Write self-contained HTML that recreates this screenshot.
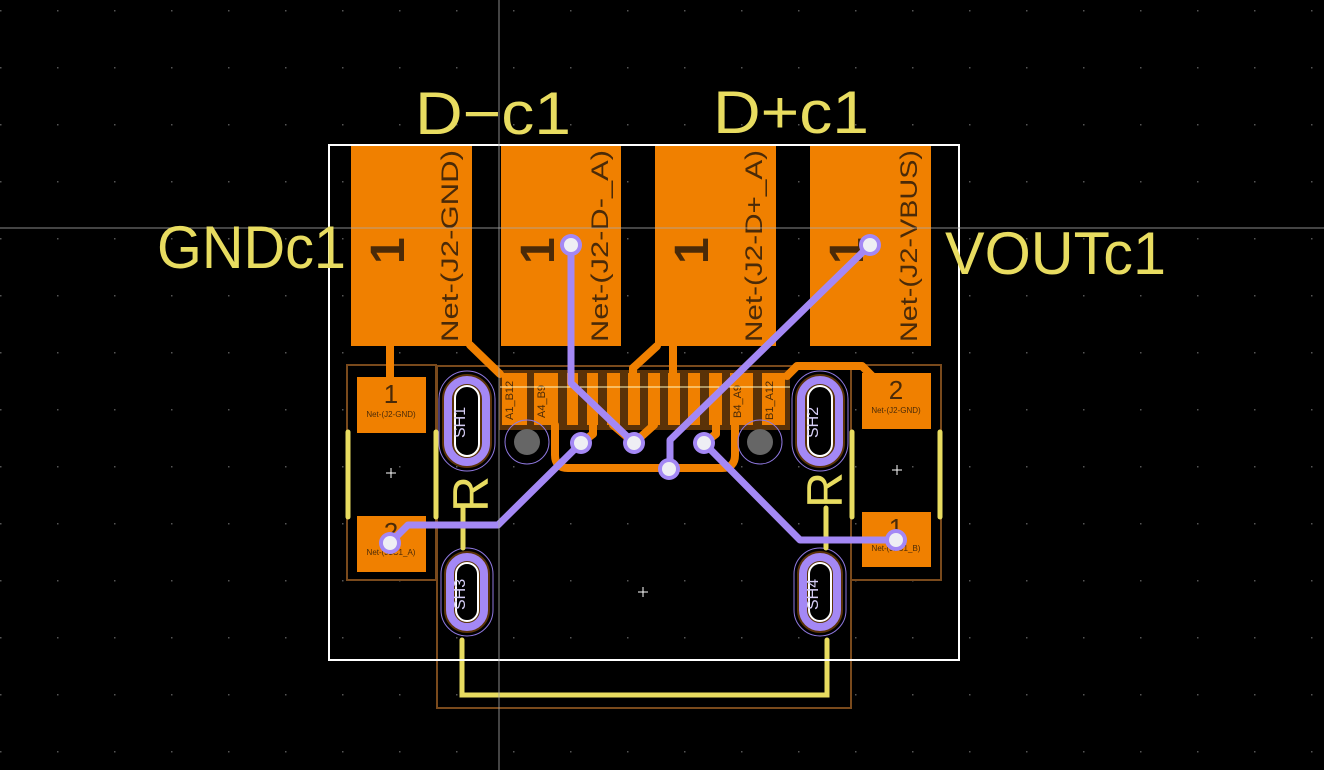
<!DOCTYPE html>
<html><head><meta charset="utf-8"><style>
html,body{margin:0;padding:0;background:#000;}
svg{display:block}
text{font-family:"Liberation Sans",sans-serif}
</style></head><body>
<svg width="1324" height="770" viewBox="0 0 1324 770" xmlns="http://www.w3.org/2000/svg">
<rect width="1324" height="770" fill="#000"/>
<defs>
<pattern id="g" width="57" height="57" patternUnits="userSpaceOnUse" x="0" y="10">
<rect x="0" y="0" width="1.5" height="1.5" fill="#555"/>
</pattern>
</defs>
<rect width="1324" height="770" fill="url(#g)"/>

<g fill="none" stroke="#7a4a1c" stroke-width="2">
<rect x="347" y="365" width="89" height="215"/>
<rect x="851" y="365" width="90" height="215"/>
<rect x="437" y="366" width="414" height="342"/>
</g>

<g fill="#f08000">
<rect x="351" y="146" width="121" height="200"/>
<rect x="501" y="146" width="120" height="200"/>
<rect x="655" y="146" width="121" height="200"/>
<rect x="810" y="146" width="121" height="200"/>
</g>
<g fill="#4a2a08" font-size="48" font-weight="bold">
<text transform="translate(404,264) rotate(-90)">1</text>
<text transform="translate(554,264) rotate(-90)">1</text>
<text transform="translate(708,264) rotate(-90)">1</text>
<text transform="translate(863,264) rotate(-90)">1</text>
</g>
<g fill="#4a2a08" font-size="24" font-family="Liberation Mono">
<text transform="translate(458,342) rotate(-90)" textLength="192" lengthAdjust="spacingAndGlyphs">Net-(J2-GND)</text>
<text transform="translate(608,342) rotate(-90)" textLength="192" lengthAdjust="spacingAndGlyphs">Net-(J2-D-_A)</text>
<text transform="translate(762,342) rotate(-90)" textLength="192" lengthAdjust="spacingAndGlyphs">Net-(J2-D+_A)</text>
<text transform="translate(917,342) rotate(-90)" textLength="192" lengthAdjust="spacingAndGlyphs">Net-(J2-VBUS)</text>
</g>

<g fill="#f08000">
<rect x="357" y="377" width="69" height="56"/>
<rect x="357" y="516" width="69" height="56"/>
<rect x="862" y="373" width="69" height="56"/>
<rect x="862" y="512" width="69" height="55"/>
</g>
<g fill="#4a2a08" font-size="26" text-anchor="middle">
<text x="391" y="403">1</text><text x="391" y="541">2</text>
<text x="896" y="399">2</text><text x="896" y="537">1</text>
</g>
<g fill="#4a2a08" font-size="8" font-family="Liberation Mono" text-anchor="middle">
<text x="391" y="417">Net-(J2-GND)</text><text x="391" y="555">Net-(J1C1_A)</text>
<text x="896" y="413">Net-(J2-GND)</text><text x="896" y="551">Net-(J1C1_B)</text>
</g>

<rect x="499" y="370" width="291" height="60" fill="#5a3208"/>
<g fill="#f08000">
<rect x="502" y="373" width="25" height="52"/>
<rect x="534" y="373" width="24" height="52"/>
<rect x="567" y="373" width="11" height="52"/>
<rect x="587" y="373" width="11" height="52"/>
<rect x="607" y="373" width="13" height="52"/>
<rect x="628" y="373" width="12" height="52"/>
<rect x="648" y="373" width="12" height="52"/>
<rect x="668" y="373" width="12" height="52"/>
<rect x="688" y="373" width="12" height="52"/>
<rect x="709" y="373" width="13" height="52"/>
<rect x="730" y="373" width="23" height="52"/>
<rect x="762" y="373" width="23" height="52"/>
</g>
<g fill="#4a2a08" font-size="11">
<text transform="translate(513,420) rotate(-90)">A1_B12</text>
<text transform="translate(545,418) rotate(-90)">A4_B9</text>
<text transform="translate(741,418) rotate(-90)">B4_A9</text>
<text transform="translate(773,420) rotate(-90)">B1_A12</text>
</g>
<line x1="500" y1="387" x2="790" y2="387" stroke="#fff8c0" stroke-width="1"/>

<g fill="none" stroke="#f08000" stroke-width="8" stroke-linejoin="round" stroke-linecap="round">
<path d="M390 346 V377"/>
<path d="M470 345 L500 374"/>
<path d="M673 346 V374"/>
<path d="M657 346 L633 368 V378"/>
<path d="M787 376 L797 366 H862 L872 376"/>
<path d="M555 425 V455 Q555 468 568 468 H722 Q735 468 735 455 V425"/>
<path d="M593 425 V434 L581 443"/>
<path d="M613 425 L634 443 L654 425"/>
<path d="M716 425 V434 L704 443"/>
</g>

<g>
<circle cx="527" cy="442" r="22" fill="none" stroke="#8f78e0" stroke-width="1"/>
<circle cx="527" cy="442" r="13" fill="#666"/>
<circle cx="760" cy="442" r="22" fill="none" stroke="#8f78e0" stroke-width="1"/>
<circle cx="760" cy="442" r="13" fill="#666"/>
</g>

<g>
<g transform="translate(467,421)">
<rect x="-28" y="-50" width="56" height="100" rx="28" fill="none" stroke="#8f78e0" stroke-width="1"/>
<rect x="-25" y="-47" width="50" height="94" rx="25" fill="#5a3208"/>
<rect x="-19" y="-41" width="38" height="82" rx="19" fill="none" stroke="#a488f5" stroke-width="8"/>
<rect x="-12" y="-35" width="24" height="70" rx="12" fill="#000" stroke="#fff" stroke-width="2"/>
</g>
<g transform="translate(820,421)">
<rect x="-28" y="-50" width="56" height="100" rx="28" fill="none" stroke="#8f78e0" stroke-width="1"/>
<rect x="-25" y="-47" width="50" height="94" rx="25" fill="#5a3208"/>
<rect x="-19" y="-41" width="38" height="82" rx="19" fill="none" stroke="#a488f5" stroke-width="8"/>
<rect x="-12" y="-35" width="24" height="70" rx="12" fill="#000" stroke="#fff" stroke-width="2"/>
</g>
<g transform="translate(467,592)">
<rect x="-26" y="-44" width="52" height="88" rx="26" fill="none" stroke="#8f78e0" stroke-width="1"/>
<rect x="-23" y="-41" width="46" height="82" rx="23" fill="#5a3208"/>
<rect x="-17" y="-35" width="34" height="70" rx="17" fill="none" stroke="#a488f5" stroke-width="8"/>
<rect x="-11" y="-29" width="22" height="58" rx="11" fill="#000" stroke="#fff" stroke-width="2"/>
</g>
<g transform="translate(820,592)">
<rect x="-26" y="-44" width="52" height="88" rx="26" fill="none" stroke="#8f78e0" stroke-width="1"/>
<rect x="-23" y="-41" width="46" height="82" rx="23" fill="#5a3208"/>
<rect x="-17" y="-35" width="34" height="70" rx="17" fill="none" stroke="#a488f5" stroke-width="8"/>
<rect x="-11" y="-29" width="22" height="58" rx="11" fill="#000" stroke="#fff" stroke-width="2"/>
</g>
</g>
<g fill="#d8d0f8" font-size="16">
<text transform="translate(465,438) rotate(-90)">SH1</text>
<text transform="translate(818,438) rotate(-90)">SH2</text>
<text transform="translate(465,610) rotate(-90)">SH3</text>
<text transform="translate(818,610) rotate(-90)">SH4</text>
</g>

<g stroke="#e8dc60" stroke-width="5" stroke-linecap="round" fill="none">
<path d="M348 432 V517"/><path d="M436 432 V517"/>
<path d="M852 432 V517"/><path d="M940 432 V517"/>
<path d="M462 640 V695 H827 V640"/>
<path d="M463 508 V548"/><path d="M826 508 V548"/>
</g>
<g fill="#e8dc60" font-size="50">
<text transform="translate(488,512) rotate(-90)">R</text>
<text transform="translate(842,508) rotate(-90)">R</text>
</g>

<rect x="329" y="145" width="630" height="515" fill="none" stroke="#fff" stroke-width="2"/>

<g fill="none" stroke="#a488f5" stroke-width="7" stroke-linejoin="round" stroke-linecap="round">
<path d="M571 245 V383 L634 443"/>
<path d="M870 245 L670 440 V469"/>
<path d="M390 543 L408 525 H498 L581 443"/>
<path d="M704 443 L800 540 H896"/>
</g>
<g fill="#a488f5">
<circle cx="571" cy="245" r="11"/><circle cx="870" cy="245" r="11"/>
<circle cx="390" cy="543" r="11"/><circle cx="896" cy="540" r="11"/>
<circle cx="581" cy="443" r="11"/><circle cx="634" cy="443" r="11"/>
<circle cx="669" cy="469" r="11"/><circle cx="704" cy="443" r="11"/>
</g>
<g fill="#eeeef4">
<circle cx="571" cy="245" r="7"/><circle cx="870" cy="245" r="7"/>
<circle cx="390" cy="543" r="7"/><circle cx="896" cy="540" r="7"/>
<circle cx="581" cy="443" r="7"/><circle cx="634" cy="443" r="7"/>
<circle cx="669" cy="469" r="7"/><circle cx="704" cy="443" r="7"/>
</g>

<g stroke="#fff" stroke-width="1">
<path d="M386 473 H396 M391 468 V478"/>
<path d="M892 470 H902 M897 465 V475"/>
<path d="M638 592 H648 M643 587 V597"/>
</g>

<line x1="499" y1="0" x2="499" y2="770" stroke="#aaa" stroke-width="1" opacity="0.8"/>
<line x1="0" y1="228" x2="1324" y2="228" stroke="#aaa" stroke-width="1" opacity="0.8"/>

<g fill="#e8dc60" font-size="60">
<text x="415" y="134" textLength="156" lengthAdjust="spacingAndGlyphs">D−c1</text>
<text x="713" y="133" textLength="156" lengthAdjust="spacingAndGlyphs">D+c1</text>
<text x="157" y="268" textLength="189" lengthAdjust="spacingAndGlyphs">GNDc1</text>
<text x="945" y="274" textLength="221" lengthAdjust="spacingAndGlyphs">VOUTc1</text>
</g>
</svg>
</body></html>
